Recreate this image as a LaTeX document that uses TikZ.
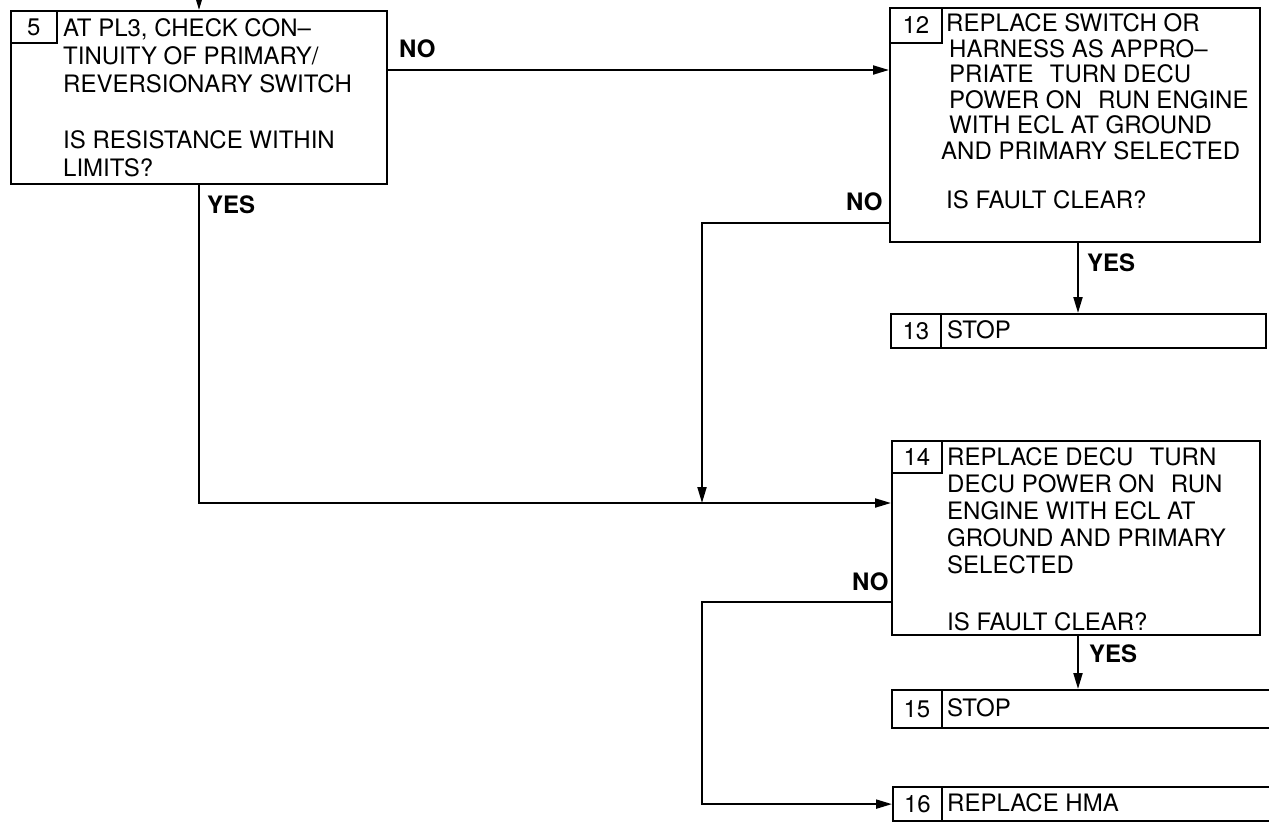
\documentclass[tikz,border=0pt]{standalone}
\usepackage{fontspec}
\setmainfont{TeX Gyre Heros}
\usetikzlibrary{arrows.meta}
\begin{document}
\begin{tikzpicture}[x=1pt,y=-1pt,
  font=\fontsize{24}{25.5}\selectfont,
  box/.style={draw, line width=2.2pt, anchor=north west, inner sep=0pt},
  numbox/.style={draw, line width=1.8pt, anchor=north west, inner sep=0pt},
  txt/.style={anchor=north west, inner sep=0pt, align=left},
  line/.style={anchor=west, inner sep=0pt},
  lbl/.style={anchor=west, inner sep=0pt, font=\fontsize{24}{25.5}\selectfont\bfseries},
  conn/.style={line width=2pt},
  arr/.style={conn, -{Triangle[length=16pt,width=9pt]}}
]
\useasboundingbox (0,0) rectangle (1269,823);
\clip (0,0) rectangle (1269,823);

% step 5
\node[box, minimum width=376pt, minimum height=173pt] (b5) at (10,10) {};
\node[numbox, minimum width=46pt, minimum height=32pt] (n5) at (b5.north west) {5};
\node[txt, font=\fontsize{24}{28}\selectfont] (t5) at (63,18.4)
  {AT PL3, CHECK CON–\\TINUITY OF PRIMARY/\\REVERSIONARY SWITCH\\[28pt]IS RESISTANCE WITHIN\\LIMITS?};

% step 12
\node[box, minimum width=370pt, minimum height=234pt] (b12) at (889,7) {};
\node[numbox, minimum width=52pt, minimum height=35pt] (n12) at (b12.north west) {12};
\node[txt, font=\fontsize{24}{25.5}\selectfont] (t12) at (946,13.4)
  {REPLACE SWITCH OR\\\hspace*{3pt}HARNESS AS APPRO–\\\hspace*{3pt}PRIATE\hspace{0.4em} TURN DECU\\\hspace*{3pt}POWER ON\hspace{0.4em} RUN ENGINE\\\hspace*{3pt}WITH ECL AT GROUND\\\hspace*{-5pt}AND PRIMARY SELECTED\\[23.5pt]IS FAULT CLEAR?};

% step 13
\node[box, minimum width=375pt, minimum height=34pt] (b13) at (890,313) {};
\node[numbox, minimum width=50pt, minimum height=34pt] (n13) at (b13.north west) {13};
\node[line] (t13) at (947,330) {STOP};

% step 14
\node[box, minimum width=368pt, minimum height=194pt] (b14) at (891,440) {};
\node[numbox, minimum width=50pt, minimum height=32pt] (n14) at (b14.north west) {14};
\node[txt, font=\fontsize{24}{27}\selectfont] (t14) at (947,447.4)
  {REPLACE DECU\hspace{0.4em} TURN\\DECU POWER ON\hspace{0.4em} RUN\\ENGINE WITH ECL AT\\GROUND AND PRIMARY\\SELECTED\\[30pt]IS FAULT CLEAR?};

% step 15
\node[box, minimum width=390pt, minimum height=38pt] (b15) at (891,689) {};
\node[numbox, minimum width=50pt, minimum height=38pt] (n15) at (b15.north west) {15};
\node[line] (t15) at (947,708) {STOP};

% step 16
\node[box, minimum width=390pt, minimum height=34pt] (b16) at (892,786) {};
\node[numbox, minimum width=49pt, minimum height=34pt] (n16) at (b16.north west) {16};
\node[line] (t16) at (947,803) {REPLACE HMA};

% routing points
\coordinate (top5) at (199,0);
\coordinate (row5) at (0,70);
\coordinate (yes5) at (199,503);
\coordinate (no12) at (702,223);
\coordinate (yes12) at (1078,0);
\coordinate (no14) at (702,602);

% connectors
\draw[arr] (top5) -- (top5 |- b5.north);
\draw[arr] (b5.east |- row5) -- (b12.west |- row5);
\draw[arr] (yes5 |- b5.south) -- (yes5) -- (yes5 -| b14.west);
\draw[arr] (no12 -| b12.west) -- (no12) -- (no12 |- yes5);
\draw[arr] (yes12 |- b12.south) -- (yes12 |- b13.north);
\draw[arr] (no14 -| b14.west) -- (no14) -- (no14 |- b16.west) -- (b16.west);
\draw[arr] (yes12 |- b14.south) -- (yes12 |- b15.north);

% branch labels
\node[lbl] (l5no) at (399,49) {NO};
\node[lbl] (l5yes) at (207,205) {YES};
\node[lbl] (l12no) at (846,202) {NO};
\node[lbl] (l12yes) at (1087,263) {YES};
\node[lbl] (l14no) at (852,582) {NO};
\node[lbl] (l14yes) at (1089,654) {YES};
\end{tikzpicture}
\end{document}
